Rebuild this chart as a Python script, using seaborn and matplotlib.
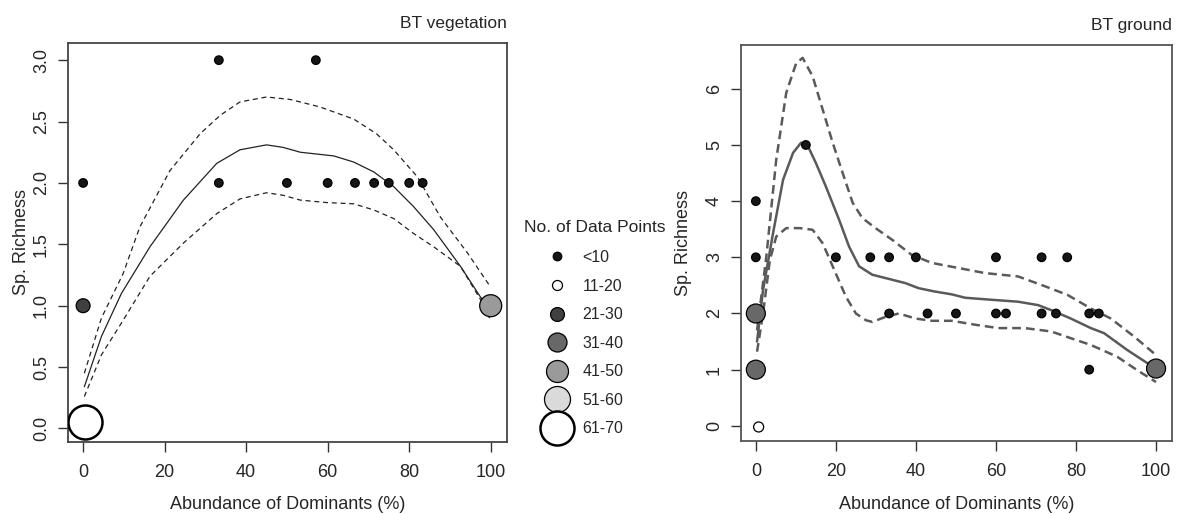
import numpy as np
import pandas as pd
import matplotlib
matplotlib.use('Agg')
import matplotlib.pyplot as plt
from matplotlib.lines import Line2D
import seaborn as sns

sns.set_style('ticks')
plt.rcParams['font.family'] = ['Liberation Sans', 'DejaVu Sans']

# 图例分组: 数据点数量
groups = ['<10', '11-20', '21-30', '31-40', '41-50', '51-60', '61-70']
group_colors = ['#161616', '#ffffff', '#404040', '#686868', '#9a9a9a', '#dadada', '#ffffff']
group_sizes = [38, 52, 100, 187, 251, 350, 600]

# BT vegetation 散点
veg_x = [0, 0, 0.5, 33.3, 57.1, 33.3, 50, 60, 66.7, 71.4, 75, 80, 83.3, 100]
veg_y = [2, 1, 0.05, 3, 3, 2, 2, 2, 2, 2, 2, 2, 2, 1]
veg_g = ['<10', '21-30', '61-70', '<10', '<10', '<10', '<10', '<10', '<10',
         '<10', '<10', '<10', '<10', '41-50']

# BT vegetation 拟合曲线和置信区间
veg_fit_x = [0.3, 4.5, 9.4, 16.4, 24.6, 32.8, 38.5, 45, 49, 53.3, 61.5, 66.4, 71.3,
             76.2, 81, 86, 92.6, 97.5, 100]
veg_fit_y = [0.34, 0.75, 1.1, 1.48, 1.86, 2.16, 2.27, 2.31, 2.29, 2.25, 2.22, 2.17, 2.09,
             1.97, 1.81, 1.62, 1.32, 1.07, 0.98]
veg_up_x = [0.3, 4.5, 9.8, 13.9, 21.3, 28.7, 33.6, 38.5, 45, 50.8, 58, 66.4, 72, 76.2,
            82, 87.7, 94.3, 100]
veg_up_y = [0.45, 0.9, 1.26, 1.64, 2.10, 2.40, 2.55, 2.66, 2.70, 2.68, 2.62, 2.52, 2.40,
            2.27, 2.05, 1.72, 1.43, 1.15]
veg_lo_x = [0.3, 4.5, 9.8, 16.4, 24.6, 32.8, 38.5, 45, 49, 53.3, 59.8, 66.4, 71.3, 76.2,
            81, 86, 92.6, 97.5, 100]
veg_lo_y = [0.26, 0.6, 0.88, 1.24, 1.51, 1.75, 1.87, 1.92, 1.90, 1.86, 1.84, 1.83, 1.78,
            1.71, 1.59, 1.48, 1.32, 1.05, 0.88]

# BT ground 散点
gr_x = [0, 0, 0, 0, 0.7, 12.5, 20, 28.6, 33.3, 40, 60, 71.4, 77.8,
        33.3, 42.9, 50, 60, 62.5, 71.4, 75, 83.3, 85.7, 83.3, 100]
gr_y = [4, 3, 2, 1, -0.02, 5, 3, 3, 3, 3, 3, 3, 3,
        2, 2, 2, 2, 2, 2, 2, 2, 2, 1, 1.02]
gr_g = ['<10', '<10', '31-40', '31-40', '11-20', '<10', '<10', '<10', '<10', '<10',
        '<10', '<10', '<10', '<10', '<10', '<10', '<10', '<10', '<10', '<10', '<10',
        '<10', '<10', '31-40']

# BT ground 拟合曲线和置信区间
gr_fit_x = [0.3, 1.8, 4.3, 6.8, 9.3, 11.3, 13, 15, 17.5, 20.8, 23.3, 25.8, 29.1, 34.1,
            37.4, 40.7, 44.8, 49, 52.3, 59.7, 65.5, 70.5, 73.8, 78.7, 83.7, 87, 92.8,
            98.6, 100]
gr_fit_y = [1.5, 2.42, 3.43, 4.38, 4.86, 5.04, 4.98, 4.68, 4.26, 3.67, 3.19, 2.84, 2.69,
            2.60, 2.54, 2.45, 2.39, 2.34, 2.28, 2.24, 2.21, 2.15, 2.06, 1.91, 1.74, 1.65,
            1.35, 1.08, 1.03]
gr_up_x = [0.3, 2.6, 5.1, 7.6, 10.1, 11.7, 14.2, 16.7, 19.2, 21.7, 24.2, 26.6, 29.9,
           34.1, 39, 44, 50.6, 57.2, 65.5, 71.3, 77.9, 83.7, 88.7, 94.5, 100]
gr_up_y = [1.7, 3.0, 4.74, 5.93, 6.46, 6.55, 6.22, 5.63, 5.04, 4.50, 3.97, 3.70, 3.52,
           3.31, 3.04, 2.90, 2.81, 2.72, 2.66, 2.51, 2.33, 2.09, 1.91, 1.59, 1.26]
gr_lo_x = [0.3, 1.8, 3.5, 5.1, 7.6, 10.9, 14.2, 16.7, 19.2, 22.5, 25, 27.5, 29.1, 32.4,
           35.7, 39.9, 44, 49, 54.8, 60.6, 67.2, 73.8, 78.7, 83.7, 90.3, 95.3, 100]
gr_lo_y = [1.32, 2.0, 2.95, 3.37, 3.52, 3.52, 3.49, 3.25, 2.84, 2.30, 2.0, 1.88, 1.85,
           1.94, 2.0, 1.91, 1.87, 1.87, 1.80, 1.74, 1.74, 1.68, 1.56, 1.44, 1.23, 0.99, 0.78]

palette = dict(zip(groups, group_colors))
sizes = dict(zip(groups, group_sizes))

fig = plt.figure(figsize=(12.02, 5.14), dpi=100)
ax1 = fig.add_axes([0.0566, 0.1401, 0.3652, 0.7763])
ax2 = fig.add_axes([0.6165, 0.1420, 0.3586, 0.7705])


def draw_panel(ax, xs, ys, gs, fits, line_color, lw, dashes, title, yticks, fmt, ylim,
               spine_c, ylabpad):
    for (fx, fy), ls in zip(fits, ['-', (0, dashes), (0, dashes)]):
        sns.lineplot(x=fx, y=fy, ax=ax, color=line_color, lw=lw, linestyle=ls,
                     sort=True, estimator=None)
    df = pd.DataFrame({'x': xs, 'y': ys, 'g': gs})
    big = df['g'] == '61-70'
    sns.scatterplot(data=df[~big], x='x', y='y', hue='g', size='g', palette=palette,
                    sizes=sizes, hue_order=groups, size_order=groups, ax=ax,
                    edgecolor='black', linewidth=0.9, legend=False, zorder=3)
    if big.any():
        sns.scatterplot(data=df[big], x='x', y='y', hue='g', size='g', palette=palette,
                        sizes=sizes, hue_order=groups, size_order=groups, ax=ax,
                        edgecolor='black', linewidth=1.8, legend=False, zorder=3)
    ax.set_xlim(-3.7, 104)
    ax.set_ylim(*ylim)
    ax.set_xticks([0, 20, 40, 60, 80, 100])
    ax.set_yticks(yticks)
    ax.set_yticklabels([fmt.format(v) for v in yticks], rotation=90, va='center')
    ax.tick_params(labelsize=13, length=7, width=1, color='#333333', pad=6)
    ax.tick_params(axis='x', pad=9)
    for s in ax.spines.values():
        s.set_visible(True)
        s.set_color(spine_c)
        s.set_linewidth(1.3)
    ax.set_xlabel('Abundance of Dominants (%)', fontsize=13, labelpad=11)
    ax.set_ylabel('Sp. Richness', fontsize=13, labelpad=ylabpad)
    ax.set_title(title, loc='right', fontsize=12.5, pad=11)


draw_panel(ax1, veg_x, veg_y, veg_g,
           [(veg_fit_x, veg_fit_y), (veg_up_x, veg_up_y), (veg_lo_x, veg_lo_y)],
           '#222222', 0.9, (4, 3), 'BT vegetation', [0, 0.5, 1.0, 1.5, 2.0, 2.5, 3.0],
           '{:.1f}', (-0.11, 3.14), '#444444', 2)
draw_panel(ax2, gr_x, gr_y, gr_g,
           [(gr_fit_x, gr_fit_y), (gr_up_x, gr_up_y), (gr_lo_x, gr_lo_y)],
           '#5a5a5a', 1.8, (3.5, 2), 'BT ground', [0, 1, 2, 3, 4, 5, 6], '{:.0f}',
           (-0.27, 6.78), '#555555', 10)

# 图例
fig.text(524 / 1202, 1 - 227 / 514, 'No. of Data Points', fontsize=12.5,
         ha='left', va='center')
handles = []
for g, c, s in zip(groups, group_colors, group_sizes):
    handles.append(Line2D([], [], marker='o', linestyle='none', markerfacecolor=c,
                          markeredgecolor='black', markersize=np.sqrt(s),
                          markeredgewidth=1.8 if g == '61-70' else 0.9, label=g))
fig.legend(handles=handles, loc='upper left', bbox_to_anchor=(541 / 1202, 1 - 250 / 514),
           frameon=False, fontsize=11.5, labelspacing=0.85, handletextpad=0.6,
           borderaxespad=0, borderpad=0)

fig.savefig('out.png', dpi=100)
